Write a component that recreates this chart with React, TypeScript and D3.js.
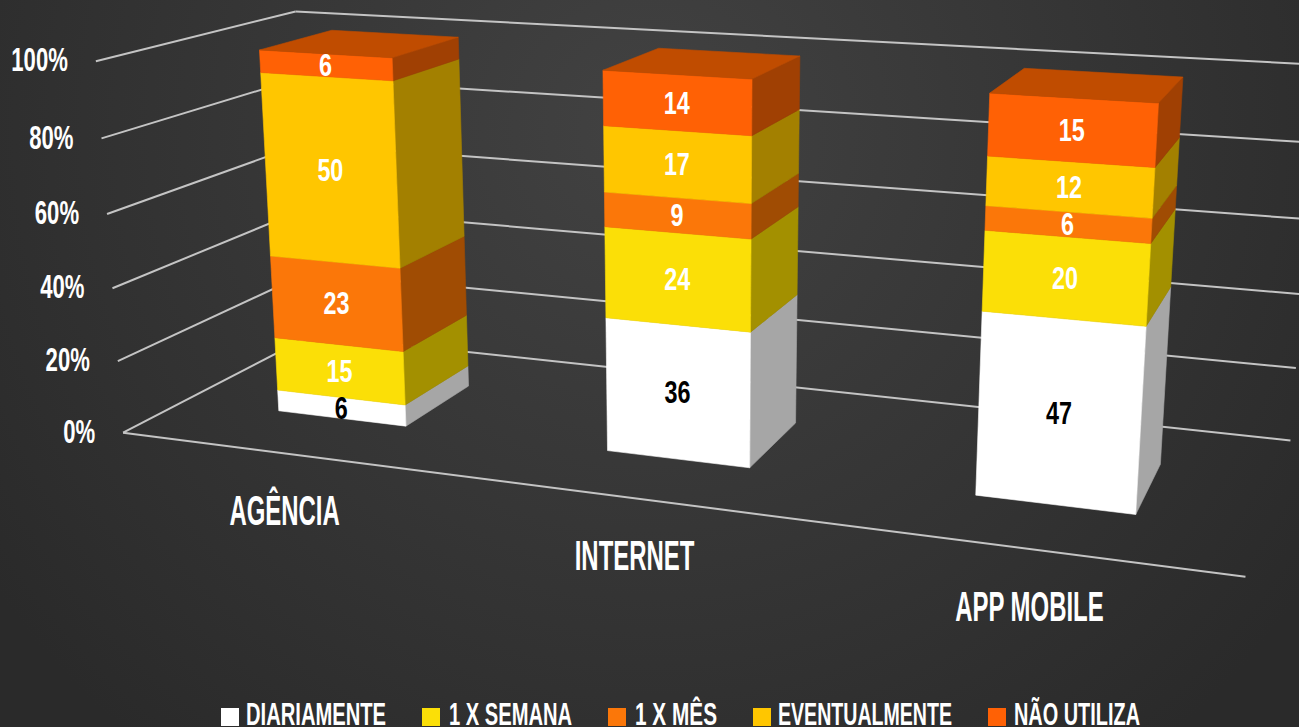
import React, { useMemo } from "react";
import * as d3 from "d3";

const categories = ["AGÊNCIA", "INTERNET", "APP MOBILE"];
const seriesNames = ["DIARIAMENTE", "1 X SEMANA", "1 X MÊS", "EVENTUALMENTE", "NÃO UTILIZA"];
const diariamente = [6, 36, 47];
const umXSemana = [15, 24, 20];
const umXMes = [23, 9, 6];
const eventualmente = [50, 17, 12];
const naoUtiliza = [6, 14, 15];
const axisTicks = [0, 20, 40, 60, 80, 100];

const frontColors = ["#ffffff", "#fbdf07", "#fb7709", "#ffc600", "#ff6105"];
const sideColors = ["#a6a6a6", "#a39000", "#a04c03", "#a38000", "#a04003"];
const topColor = "#c04c00";
const labelColors = ["#000000", "#ffffff", "#ffffff", "#ffffff", "#ffffff"];
const FONT = "'Liberation Sans Narrow', 'Liberation Sans', sans-serif";

// Camera calibration: known places of the 3D plot box -> where they land on the picture.
// World axes: category position, share of the stack (0-1), depth (0 = front of bar, 1 = back of bar).
const calibration: [number, number, number, number, number][] = [
  [-0.2, 0, 0, 278, 412], [0.2, 0, 0, 405, 427], [0.2, 0, 1, 469, 385],
  [-0.2, 1, 0, 258, 50], [0.2, 1, 0, 392, 58], [0.2, 1, 1, 459, 37], [-0.2, 1, 1, 332, 30],
  [0.8, 0, 0, 607, 451], [1.2, 0, 0, 749, 468], [1.2, 0, 1, 797, 423],
  [0.8, 1, 0, 602, 71], [1.2, 1, 0, 752, 79], [1.2, 1, 1, 801, 56], [0.8, 1, 1, 659, 48],
  [1.8, 0, 0, 976, 496], [2.2, 0, 0, 1136, 515], [2.2, 0, 1, 1161, 464],
  [1.8, 1, 0, 989, 93], [2.2, 1, 0, 1158, 103], [2.2, 1, 1, 1183, 77], [1.8, 1, 1, 1025, 68],
  [-0.5, 1, -0.8, 97, 61], [-0.5, 0, -0.8, 124, 431], [2.5, 0, -0.8, 1246, 576],
  [-0.5, 1, 1.8, 295, 12], [2.5, 0, 1.8, 1289, 440],
];

const BOX = { x0: -0.5, x1: 2.5, z0: -0.8, z1: 1.8 };
const HALF = 0.2;

function solveCamera(points: typeof calibration): number[] {
  const n = 11;
  const A = Array.from({ length: n }, () => new Array(n + 1).fill(0));
  const add = (row: number[], rhs: number) => {
    for (let i = 0; i < n; i++) {
      for (let j = 0; j < n; j++) A[i][j] += row[i] * row[j];
      A[i][n] += row[i] * rhs;
    }
  };
  for (const [X, Y, Z, px, py] of points) {
    const x = px / 1000, y = py / 1000;
    add([X, Y, Z, 1, 0, 0, 0, 0, -x * X, -x * Y, -x * Z], x);
    add([0, 0, 0, 0, X, Y, Z, 1, -y * X, -y * Y, -y * Z], y);
  }
  for (let c = 0; c < n; c++) {
    let p = c;
    for (let r = c + 1; r < n; r++) if (Math.abs(A[r][c]) > Math.abs(A[p][c])) p = r;
    [A[c], A[p]] = [A[p], A[c]];
    for (let r = 0; r < n; r++) {
      if (r === c) continue;
      const f = A[r][c] / A[c][c];
      for (let k = c; k <= n; k++) A[r][k] -= f * A[c][k];
    }
  }
  return A.map((row, i) => row[n] / row[i]);
}

function Label({ x, y, text, size, sx, fill = "#fff", anchor = "middle" }: any) {
  return (
    <text
      transform={`translate(${x},${y}) scale(${sx},1)`}
      textAnchor={anchor}
      dominantBaseline="central"
      fontFamily={FONT}
      fontWeight="700"
      fontSize={size}
      fill={fill}
    >
      {text}
    </text>
  );
}

export default function App() {
  const m = useMemo(() => solveCamera(calibration), []);
  const project = (X: number, Y: number, Z: number): [number, number] => {
    const w = m[8] * X + m[9] * Y + m[10] * Z + 1;
    return [
      (1000 * (m[0] * X + m[1] * Y + m[2] * Z + m[3])) / w,
      (1000 * (m[4] * X + m[5] * Y + m[6] * Z + m[7])) / w,
    ];
  };
  const share = d3.scaleLinear().domain([0, 100]).range([0, 1]);
  const catX = d3.scalePoint<string>().domain(categories).range([0, 2]);
  const poly = (pts: [number, number, number][]) =>
    (d3.line()(pts.map((p) => project(p[0], p[1], p[2]))) as string) + "Z";
  const seg = (a: [number, number, number], b: [number, number, number]) => d3.line()([project(...a), project(...b)]) as string;

  const rows = categories.map((c, i) => ({
    c,
    0: diariamente[i],
    1: umXSemana[i],
    2: umXMes[i],
    3: eventualmente[i],
    4: naoUtiliza[i],
  }));
  const stacked = d3.stack<any, number>().keys([0, 1, 2, 3, 4])(rows as any);

  const legendSquares = [221, 422, 608, 753, 988];
  const legendText = [[246, 140], [449, 123], [635, 82], [778, 174], [1014, 126]];

  return (
    <svg
      width={1299}
      height={727}
      viewBox="0 0 1299 727"
      style={{ position: "absolute", left: 0, top: 0, display: "block" }}
    >
      <defs>
        <radialGradient id="bg" gradientUnits="userSpaceOnUse" cx={650} cy={130} r={800}>
          <stop offset="0" stopColor="#424242" />
          <stop offset="1" stopColor="#2a2a2a" />
        </radialGradient>
      </defs>
      <rect width={1299} height={727} fill="url(#bg)" />

      <g stroke="#c4c4c4" strokeWidth={2} fill="none">
        {axisTicks.map((t) => (
          <g key={t}>
            <path d={seg([BOX.x0, share(t), BOX.z0], [BOX.x0, share(t), BOX.z1])} />
            <path d={seg([BOX.x0, share(t), BOX.z1], [BOX.x1, share(t), BOX.z1])} />
          </g>
        ))}
        <path d={seg([BOX.x0, 0, BOX.z0], [BOX.x1, 0, BOX.z0])} />
      </g>

      {axisTicks.map((t) => {
        const [x, y] = project(BOX.x0, share(t), BOX.z0);
        return <Label key={t} x={x - 28} y={y - 1} text={`${t}%`} size={33} sx={0.67} anchor="end" />;
      })}

      {categories.map((c, i) => {
        const cx = catX(c) as number;
        return (
          <g key={c}>
            {stacked.map((layer, s) => {
              const a = share(layer[i][0]);
              const b = share(layer[i][1]);
              const l = cx - HALF;
              const r = cx + HALF;
              return (
                <g key={s}>
                  <path
                    d={poly([[r, a, 0], [r, a, 1], [r, b, 1], [r, b, 0]])}
                    fill={sideColors[s]}
                    stroke={sideColors[s]}
                    strokeWidth={0.6}
                  />
                  <path
                    d={poly([[l, a, 0], [r, a, 0], [r, b, 0], [l, b, 0]])}
                    fill={frontColors[s]}
                    stroke={frontColors[s]}
                    strokeWidth={0.6}
                  />
                  {s === stacked.length - 1 && (
                    <path d={poly([[l, b, 0], [r, b, 0], [r, b, 1], [l, b, 1]])} fill={topColor} stroke={topColor} strokeWidth={0.6} />
                  )}
                </g>
              );
            })}
            {stacked.map((layer, s) => {
              const [x, y] = project(cx, share((layer[i][0] + layer[i][1]) / 2), 0);
              return (
                <Label key={s} x={x} y={y} text={layer[i][1] - layer[i][0]} size={32} sx={0.73} fill={labelColors[s]} />
              );
            })}
            {(() => {
              const [x, y] = project(cx, 0, BOX.z0);
              return <Label x={x + 1} y={y + 57} text={c} size={42} sx={0.57} />;
            })()}
          </g>
        );
      })}

      {seriesNames.map((name, i) => (
        <g key={name}>
          <rect x={legendSquares[i]} y={708} width={18} height={18} fill={frontColors[i]} />
          <text
            x={legendText[i][0]}
            y={725}
            textLength={legendText[i][1]}
            lengthAdjust="spacingAndGlyphs"
            fontFamily={FONT}
            fontWeight="700"
            fontSize={31}
            fill="#fff"
          >
            {name}
          </text>
        </g>
      ))}
    </svg>
  );
}
